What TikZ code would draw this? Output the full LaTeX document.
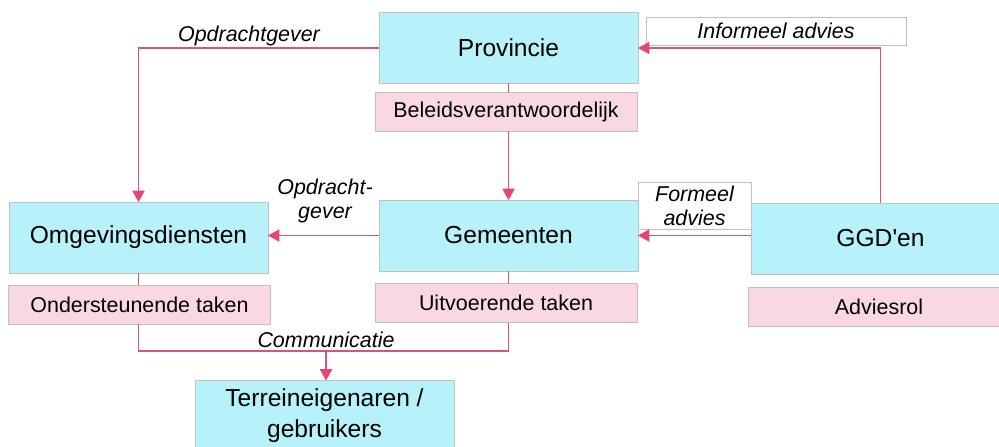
\documentclass[tikz,border=0pt]{standalone}
\usepackage{fontspec}
\newfontfamily\arial{Liberation Sans}
\usetikzlibrary{arrows.meta}
\definecolor{cyanbox}{RGB}{183,241,250}
\definecolor{pinkbox}{RGB}{249,216,225}
\definecolor{rim}{RGB}{192,192,192}
\definecolor{link}{RGB}{212,86,126}
\definecolor{tip}{RGB}{232,68,120}

\begin{document}
\begin{tikzpicture}[x=0.02cm,y=-0.02cm,
    main/.style={draw=rim,fill=cyanbox,minimum width=5.18cm,minimum height=1.42cm,inner sep=0pt,outer sep=0pt,align=center,font=\arial\fontsize{14}{17.5}\selectfont},
    sub/.style={draw=rim,fill=pinkbox,minimum width=5.24cm,minimum height=0.78cm,inner sep=0pt,outer sep=0pt,font=\arial\fontsize{12.2}{14}\selectfont},
    note/.style={inner sep=0pt,outer sep=0pt,align=center,font=\arial\itshape\fontsize{12.2}{13.6}\selectfont},
    line/.style={draw=link,line width=0.6pt},
    arr/.style={line,-{Triangle[width=7pt,length=6.5pt,color=tip]}}]
    \useasboundingbox(0,0)rectangle(999,446);
    \node[main](prov)at(508.5,48){Provincie};
    \node[sub](beleid)at(506,112){Beleidsverantwoordelijk};
    \node[main](omg)at(138.5,237.5){Omgevingsdiensten};
    \node[sub](onder)at(139.5,304.5){Ondersteunende taken};
    \node[main](gem)at(508.5,235.5){Gemeenten};
    \node[sub](uitv)at(506,303){Uitvoerende taken};
    \node[main](ggd)at(880.5,238.5){GGD'en};
    \node[sub](adv)at(879,307){Adviesrol};
    \node[main](terr)at(324.5,416){Terreineigenaren /\\gebruikers};
    \node[note](opdr)at(249,36){Opdrachtgever};
    \node[note](opdrgem)at(325,201){Opdracht-\\gever};
    \node[note,draw=rim,fill=white,minimum width=5.2cm,minimum height=0.56cm](informeel)at(776,31){Informeel advies};
    \node[note,draw=rim,fill=white,minimum width=2.26cm,minimum height=0.94cm](formeel)at(694.5,205.5){Formeel\\advies};
    \node[note](comm)at(326,340){Communicatie};
    \coordinate(split)at(326,351);
    \draw[arr](prov.west)-|(omg.north);
    \draw[arr](ggd.north)|-(prov.east);
    \draw[line](prov.south)--(beleid.north-|prov.south);
    \draw[arr](beleid.south-|prov.south)--(gem.north);
    \draw[arr](gem.west)--(gem.west-|omg.east);
    \draw[arr](ggd.west|-gem.east)--(gem.east);
    \draw[line](omg.south)--(onder.north-|omg.south);
    \draw[line](onder.south-|omg.south)|-(split)-|(uitv.south-|gem.south);
    \draw[line](uitv.north-|gem.south)--(gem.south);
    \draw[arr](split)--(split|-terr.north);
\end{tikzpicture}
\end{document}
